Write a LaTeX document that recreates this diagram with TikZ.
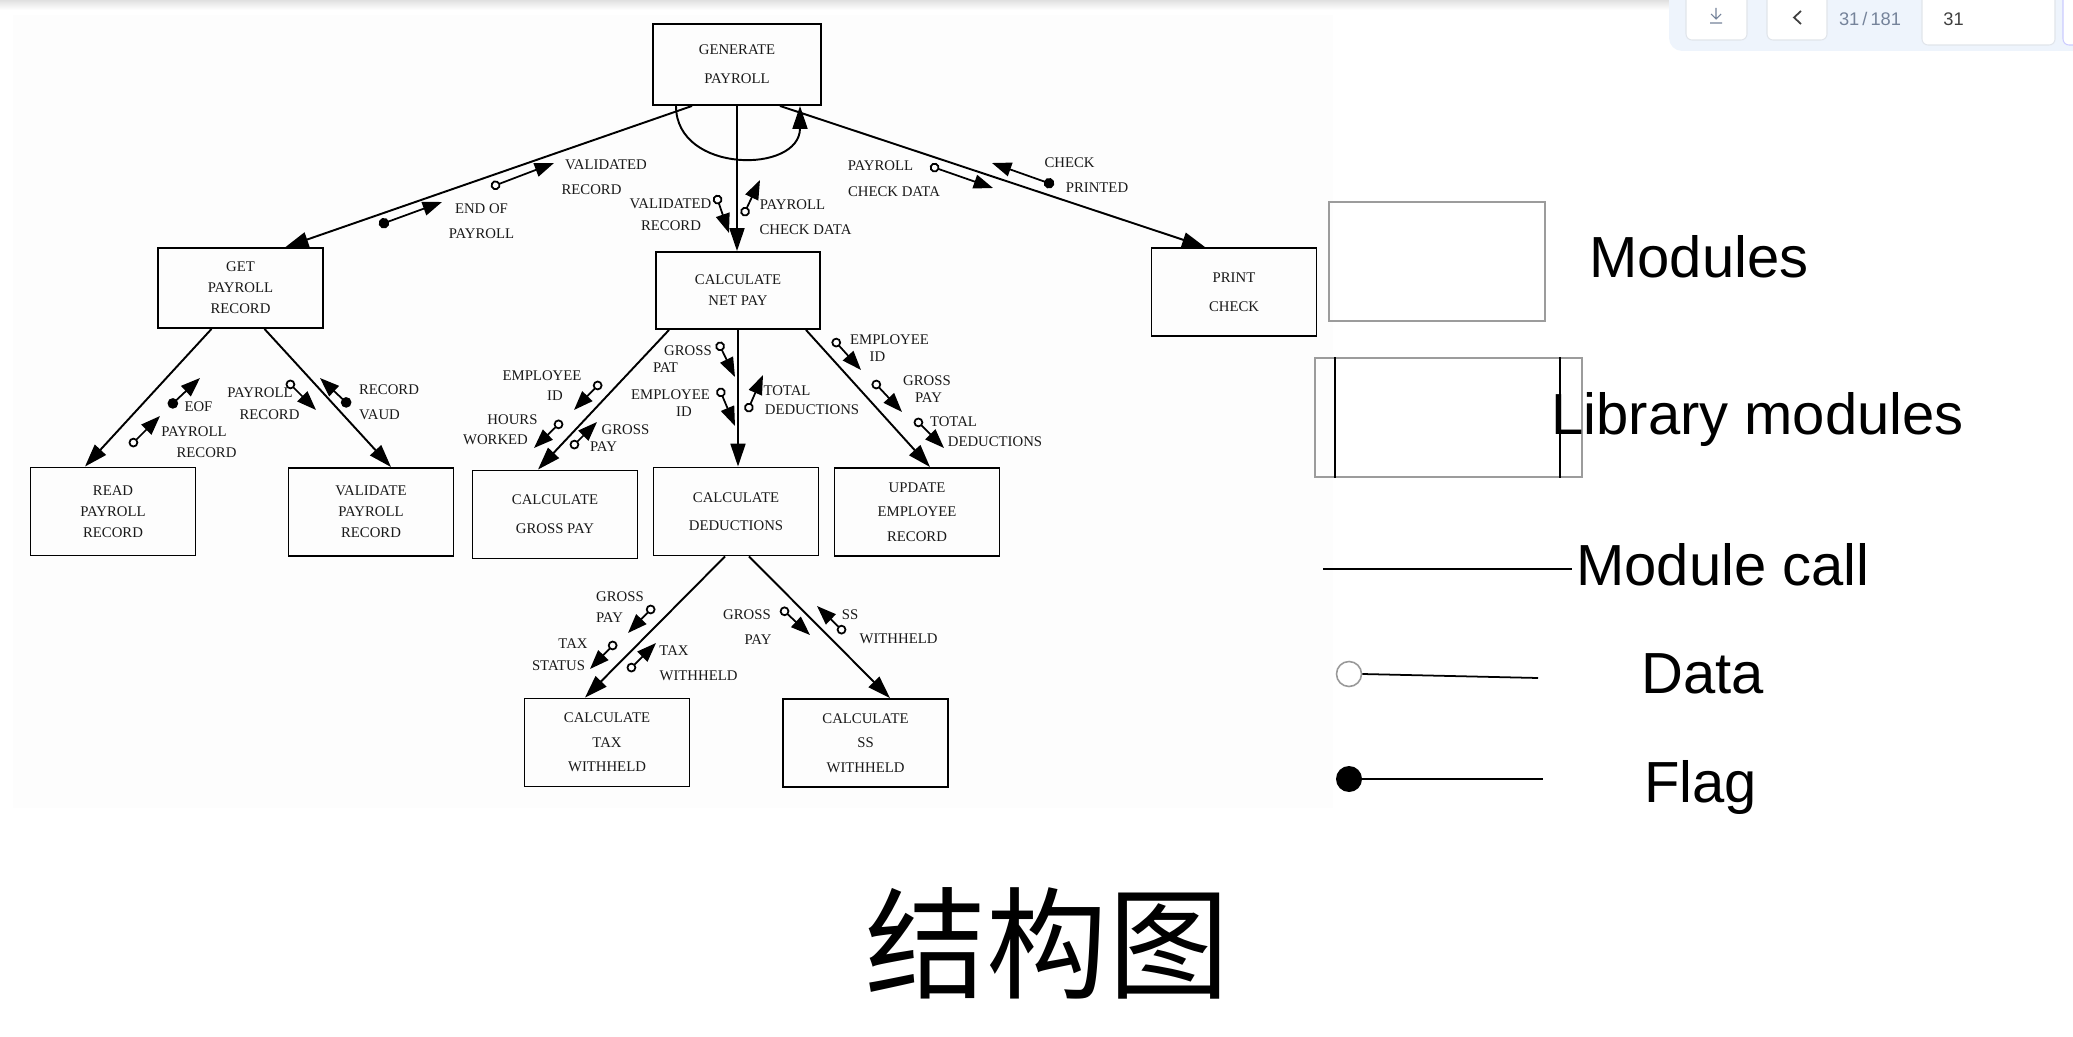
\documentclass[tikz,border=0pt]{standalone}
\usepackage{fontspec}
\setmainfont{Liberation Serif}
\newfontfamily\legfont{Liberation Sans}
\newfontfamily\cjkfont{Noto Sans CJK SC}
\usetikzlibrary{arrows.meta,calc}

\definecolor{scanbg}{HTML}{FDFDFD}
\definecolor{legframe}{HTML}{9C9C9C}
\definecolor{panelblue}{HTML}{EEF4FC}
\definecolor{btnline}{HTML}{E1E5EB}
\definecolor{pagegray}{HTML}{75839A}

\tikzset{
  module/.style={draw, line width=1.1pt, align=center, inner sep=0pt,
    minimum width=3.3cm, minimum height=1.76cm, text=black!90,
    font=\fontsize{8.4}{12}\selectfont},
  call/.style={line width=1.1pt, -{Triangle[length=13pt,width=8.5pt]}},
  datacpl/.style={line width=1pt, {Circle[open,length=5.5pt]}-{Triangle[length=11pt,width=8pt]}},
  flagcpl/.style={line width=1pt, {Circle[length=6pt]}-{Triangle[length=11pt,width=8pt]}},
  lbl/.style={inner sep=0pt, text=black!90, font=\fontsize{8.4}{10}\selectfont},
  legbox/.style={draw=legframe, line width=0.9pt, inner sep=0pt},
  legtext/.style={inner sep=0pt, anchor=base west, font=\legfont\fontsize{33}{36}\selectfont},
  uibtn/.style={fill=white, draw=btnline, line width=0.6pt, rounded corners=0.12cm},
}

\begin{document}
\begin{tikzpicture}[x=0.02cm, y=-0.02cm]
	\useasboundingbox (0,0) rectangle (2073,1037);
	% scanned page and viewer bar
	\shade[top color=black!12, bottom color=white] (0,0) rectangle (1669,10);
	\fill[scanbg] (13,15) rectangle (1333,808);
	\fill[panelblue, rounded corners=0.26cm] (1669,-30) rectangle (2110,51);
	\draw[uibtn] (1686,-20) rectangle (1747,40);
	\draw[uibtn] (1767,-20) rectangle (1827,40);
	\draw[uibtn] (1922,-20) rectangle (2055,45);
	\draw[uibtn, draw=blue!20] (2063,-20) rectangle (2110,45);
	\draw[pagegray, line width=0.6pt] (1716,8) -- (1716,19) (1711,14) -- (1716,19) -- (1721,14) (1710,23) -- (1722,23);
	\draw[black!75, line width=1pt] (1801,11) -- (1794,17.5) -- (1801,24);
	\node[inner sep=0pt, text=pagegray, font=\legfont\fontsize{10.4}{12}\selectfont] (pgno) at (1870,19) {31\,/\,181};
	\node[inner sep=0pt, anchor=west, text=black!75, font=\legfont\fontsize{10.4}{12}\selectfont] (pgin) at (1943,19) {31};

	% modules
	\node[module, minimum width=3.36cm, minimum height=1.62cm] (gen) at (737,64.5) {GENERATE\\[4.5pt]PAYROLL};
	\node[module, minimum height=1.6cm] (get) at (240.5,288) {GET\\PAYROLL\\RECORD};
	\node[module, minimum width=3.28cm, minimum height=1.54cm] (net) at (738,290.5) {CALCULATE\\NET PAY};
	\node[module] (print) at (1234,292) {PRINT\\[4.5pt]CHECK};
	\node[module] (read) at (113,511.5) {READ\\PAYROLL\\RECORD};
	\node[module] (val) at (371,512) {VALIDATE\\PAYROLL\\RECORD};
	\node[module] (gross) at (555,514.5) {CALCULATE\\[4.5pt]GROSS PAY};
	\node[module] (ded) at (736,511.5) {CALCULATE\\[4pt]DEDUCTIONS};
	\node[module] (upd) at (917,512) {UPDATE\\[2pt]EMPLOYEE\\[2pt]RECORD};
	\node[module] (tax) at (607,742.5) {CALCULATE\\[2pt]TAX\\[2pt]WITHHELD};
	\node[module] (ss) at (865.5,743) {CALCULATE\\[2pt]SS\\[2pt]WITHHELD};

	% module calls
	\draw[call] ($(gen.south)+(-45,0)$) -- ($(get.north)+(45,0)$);
	\draw[call] (gen.south) -- (gen.south |- net.north);
	\draw[call] ($(gen.south)+(43,0)$) -- ($(print.north)+(-29,0)$);
	\draw[call] ($(gen.south)+(-61,0)$) .. controls +(0,68) and +(0,68) .. ($(gen.south)+(63,0)$);
	\draw[call] ($(get.south)+(-29,0)$) -- ($(read.north)+(-28,0)$);
	\draw[call] ($(get.south)+(24,0)$) -- ($(val.north)+(20,0)$);
	\draw[call] ($(net.south)+(-69,0)$) -- ($(gross.north)+(-17,0)$);
	\draw[call] (net.south) -- (net.south |- ded.north);
	\draw[call] ($(net.south)+(68,0)$) -- ($(upd.north)+(13,0)$);
	\draw[call] ($(ded.south)+(-11,0)$) -- ($(tax.north)+(-22,0)$);
	\draw[call] ($(ded.south)+(13,0)$) -- ($(ss.north)+(24.5,0)$);

	% couples
	\draw[flagcpl] (379,225) -- (442,202);
	\draw[datacpl] (491,187) -- (554,163);
	\draw[datacpl] (716,195) -- (729,233);
	\draw[datacpl] (743,216) -- (760,180);
	\draw[datacpl] (930,166) -- (993,188);
	\draw[flagcpl] (1054,185) -- (992,163);
	\draw[flagcpl] (169,407) -- (200,378);
	\draw[datacpl] (130,446) -- (160,416);
	\draw[datacpl] (287,381) -- (316,410);
	\draw[flagcpl] (350,406) -- (320,378);
	\draw[datacpl] (601,382) -- (574,410);
	\draw[datacpl] (562,421) -- (534,448);
	\draw[datacpl] (571,448) -- (597,422);
	\draw[datacpl] (718,342) -- (735,377);
	\draw[datacpl] (719,388) -- (735,426);
	\draw[datacpl] (747,412) -- (763,375);
	\draw[datacpl] (833,339) -- (861,370);
	\draw[datacpl] (873,381) -- (902,412);
	\draw[datacpl] (915,419) -- (944,448);
	\draw[datacpl] (654,606) -- (628,633);
	\draw[datacpl] (616,642) -- (590,669);
	\draw[datacpl] (628,671) -- (656,643);
	\draw[datacpl] (781,608) -- (810,635);
	\draw[datacpl] (845,633) -- (817,606);

	% couple labels
	\node[lbl] (vr1) at (606,165) {VALIDATED};
	\node[lbl] (vr2) at (591.5,190) {RECORD};
	\node[lbl] (eop1) at (481.5,209) {END OF};
	\node[lbl] (eop2) at (481.5,234) {PAYROLL};
	\node[lbl] (vr3) at (670.5,204) {VALIDATED};
	\node[lbl] (vr4) at (671,226) {RECORD};
	\node[lbl] (pcd1) at (792.5,205) {PAYROLL};
	\node[lbl] (pcd2) at (805.5,230) {CHECK DATA};
	\node[lbl] (pcd3) at (880.5,166) {PAYROLL};
	\node[lbl] (pcd4) at (894,192) {CHECK DATA};
	\node[lbl] (cp1) at (1069.5,163) {CHECK};
	\node[lbl] (cp2) at (1097,188) {PRINTED};
	\node[lbl] (eof) at (198.5,407) {EOF};
	\node[lbl] (pr1) at (194,432) {PAYROLL};
	\node[lbl] (pr2) at (206.5,453) {RECORD};
	\node[lbl] (pr3) at (260,393) {PAYROLL};
	\node[lbl] (pr4) at (269.5,415) {RECORD};
	\node[lbl] (rv1) at (389,390) {RECORD};
	\node[lbl] (rv2) at (379.5,415) {VAUD};
	\node[lbl] (ei1) at (542,376) {EMPLOYEE};
	\node[lbl] (ei2) at (555,396) {ID};
	\node[lbl] (hw1) at (512.5,420) {HOURS};
	\node[lbl] (hw2) at (495.5,440) {WORKED};
	\node[lbl] (gp1) at (625.5,430) {GROSS};
	\node[lbl] (gp2) at (603.5,447) {PAY};
	\node[lbl] (gp3) at (688,351) {GROSS};
	\node[lbl] (gp4) at (665.5,368) {PAT};
	\node[lbl] (ei3) at (670.5,395) {EMPLOYEE};
	\node[lbl] (ei4) at (684,412) {ID};
	\node[lbl] (td1) at (787,391) {TOTAL};
	\node[lbl] (td2) at (812,410) {DEDUCTIONS};
	\node[lbl] (ei5) at (889.5,340) {EMPLOYEE};
	\node[lbl] (ei6) at (877.5,357) {ID};
	\node[lbl] (gp5) at (927,381) {GROSS};
	\node[lbl] (gp6) at (928.5,398) {PAY};
	\node[lbl] (td3) at (953.5,422) {TOTAL};
	\node[lbl] (td4) at (995,442) {DEDUCTIONS};
	\node[lbl] (gp7) at (620,597) {GROSS};
	\node[lbl] (gp8) at (609.5,618) {PAY};
	\node[lbl] (ts1) at (573,644) {TAX};
	\node[lbl] (ts2) at (558.5,666) {STATUS};
	\node[lbl] (tw1) at (674,651) {TAX};
	\node[lbl] (tw2) at (698.5,676) {WITHHELD};
	\node[lbl] (gp9) at (747,615) {GROSS};
	\node[lbl] (gp10) at (758,640) {PAY};
	\node[lbl] (sw1) at (850,615) {SS};
	\node[lbl] (sw2) at (898.5,639) {WITHHELD};

	% legend
	\node[legbox, minimum width=4.32cm, minimum height=2.38cm] (modbox) at (1437,261.5) {};
	\node[legbox, minimum width=5.34cm, minimum height=2.38cm] (libbox) at (1448.5,417.5) {};
	\draw[line width=1pt] ($(libbox.north west)+(21,0)$) -- ($(libbox.south west)+(21,0)$);
	\draw[line width=1pt] ($(libbox.north east)+(-23,0)$) -- ($(libbox.south east)+(-23,0)$);
	\node[legtext] (modtxt) at (1589,277) {Modules};
	\node[legtext] (libtxt) at (1551,434) {Library modules};
	\coordinate (mc1) at (1323,569);
	\coordinate (mc2) at (1572,569);
	\draw[line width=1pt] (mc1) -- (mc2);
	\node[legtext] (mctxt) at (1576,585) {Module call};
	\node[circle, draw=gray!80, line width=0.9pt, fill=white, minimum size=0.5cm, inner sep=0pt] (datdot) at (1349,674) {};
	\coordinate (datend) at (1538,678);
	\draw[line width=1pt] (datdot.east) -- (datend);
	\node[legtext] (dattxt) at (1641,693) {Data};
	\node[circle, fill=black, minimum size=0.52cm, inner sep=0pt] (flagdot) at (1349,779) {};
	\coordinate (flagend) at (1543,779);
	\draw[line width=1pt] (flagdot.east) -- (flagend);
	\node[legtext] (flagtxt) at (1644,802) {Flag};

	% title
	\node[inner sep=0pt, font=\cjkfont\fontsize{69}{75}\selectfont] (title) at (1047.5,943.5) {结构图};
\end{tikzpicture}
\end{document}
